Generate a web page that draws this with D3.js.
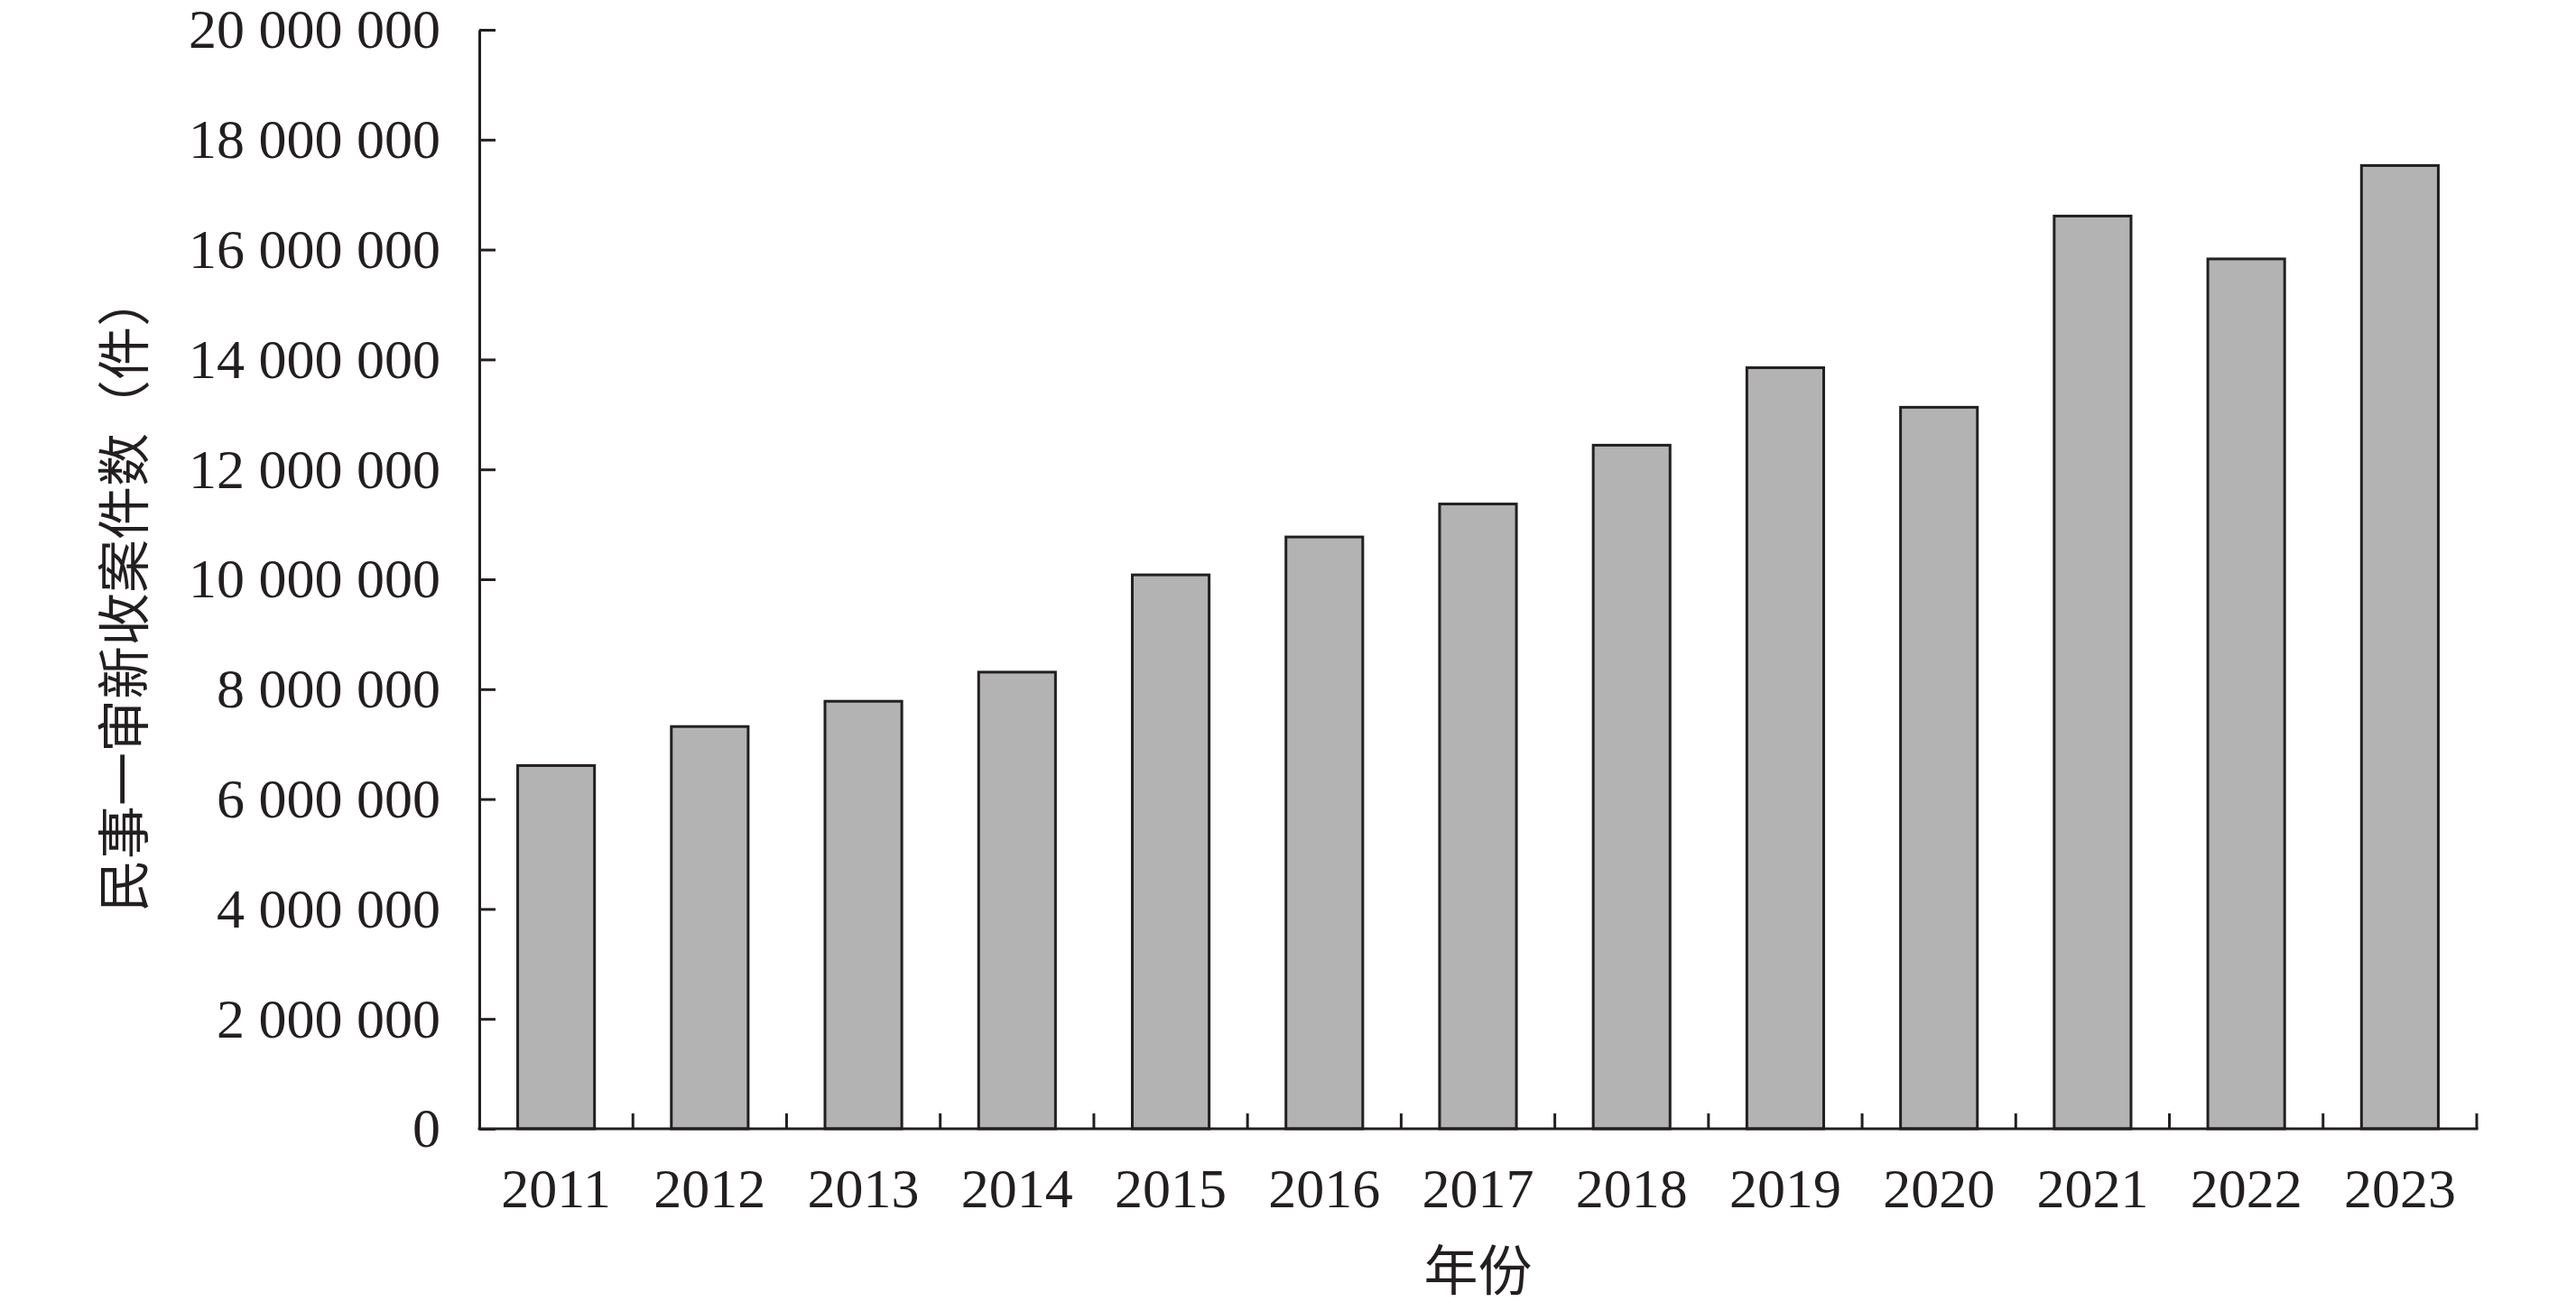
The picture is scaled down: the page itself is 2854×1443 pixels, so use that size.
<!DOCTYPE html>
<html>
<head>
<meta charset="utf-8">
<script src="https://cdn.jsdelivr.net/npm/d3@7"></script>
<style>
  body { margin: 0; background: #fff; }
  text { font-family: "Liberation Serif", "Noto Sans CJK SC", serif; fill: #231f20; }
</style>
</head>
<body>
<svg id="chart" width="2854" height="1443"></svg>
<script>
// 民事一审新收案件数 by year
var years = ["2011", "2012", "2013", "2014", "2015", "2016", "2017",
             "2018", "2019", "2020", "2021", "2022", "2023"];
var cases = [6610000, 7320000, 7780000, 8310000, 10080000, 10770000, 11370000,
             12440000, 13850000, 13130000, 16610000, 15830000, 17530000];
var yTicks = [0, 2000000, 4000000, 6000000, 8000000, 10000000,
              12000000, 14000000, 16000000, 18000000, 20000000];

function main() {
    var svg = d3.select("#chart");
    var ink = "#231f20";

    var left = 531, right = 2744, top = 33, bottom = 1251;

    var xScale = d3.scaleBand().domain(years).range([left, right])
            .paddingInner(0.5).paddingOuter(0.25),
        yScale = d3.scaleLinear().domain([0, 20000000]).range([bottom, top]);

    var fmt = d3.formatLocale({ decimal: ".", thousands: " ", grouping: [3], currency: ["", ""] }).format(",");

    // bars
    svg.append("g").selectAll("rect")
        .data(years)
        .enter().append("rect")
        .attr("x", function(d) { return xScale(d); })
        .attr("y", function(d, i) { return yScale(cases[i]); })
        .attr("width", xScale.bandwidth())
        .attr("height", function(d, i) { return bottom - yScale(cases[i]); })
        .attr("fill", "#b3b3b3")
        .attr("stroke", ink)
        .attr("stroke-width", 3);

    // y axis, ticks pointing inward
    var yAxis = svg.append("g")
        .attr("transform", "translate(" + left + ",0)")
        .call(d3.axisLeft(yScale).tickValues(yTicks).tickFormat(fmt)
            .tickSizeInner(-18).tickSizeOuter(0).tickPadding(43));
    yAxis.select(".domain").attr("stroke", ink).attr("stroke-width", 3);
    yAxis.selectAll(".tick line").attr("stroke", ink).attr("stroke-width", 3);
    yAxis.selectAll("text").attr("font-size", 62)
        .attr("font-family", "Liberation Serif").attr("fill", ink);

    // x axis labels
    var xAxis = svg.append("g")
        .attr("transform", "translate(0," + bottom + ")")
        .call(d3.axisBottom(xScale).tickSize(0).tickPadding(43));
    xAxis.select(".domain").remove();
    xAxis.selectAll("text").attr("font-size", 62)
        .attr("font-family", "Liberation Serif").attr("fill", ink);

    // x baseline and band boundary ticks
    var step = xScale.step();
    var bounds = d3.range(years.length + 1).map(function(i) {
        return i < years.length ? xScale(years[i]) - step * xScale.paddingInner() / 2
                                : xScale(years[i - 1]) + xScale.bandwidth() + step * xScale.paddingInner() / 2;
    });
    svg.append("line")
        .attr("x1", left - 1.5).attr("x2", right + 1.5)
        .attr("y1", bottom).attr("y2", bottom)
        .attr("stroke", ink).attr("stroke-width", 3);
    svg.append("g").selectAll("line")
        .data(bounds.slice(1))
        .enter().append("line")
        .attr("x1", function(d) { return d; }).attr("x2", function(d) { return d; })
        .attr("y1", bottom).attr("y2", bottom - 17)
        .attr("stroke", ink).attr("stroke-width", 3);

    // axis titles
    svg.append("text")
        .attr("transform", "translate(139," + ((top + bottom) / 2 + 15) + ") rotate(-90)")
        .attr("text-anchor", "middle")
        .attr("dominant-baseline", "central")
        .attr("font-size", 59)
        .text("民事一审新收案件数（件）");

    svg.append("text")
        .attr("x", (left + right) / 2)
        .attr("y", 1410)
        .attr("text-anchor", "middle")
        .attr("dominant-baseline", "central")
        .attr("font-size", 60)
        .text("年份");
}
main();
</script>
</body>
</html>
